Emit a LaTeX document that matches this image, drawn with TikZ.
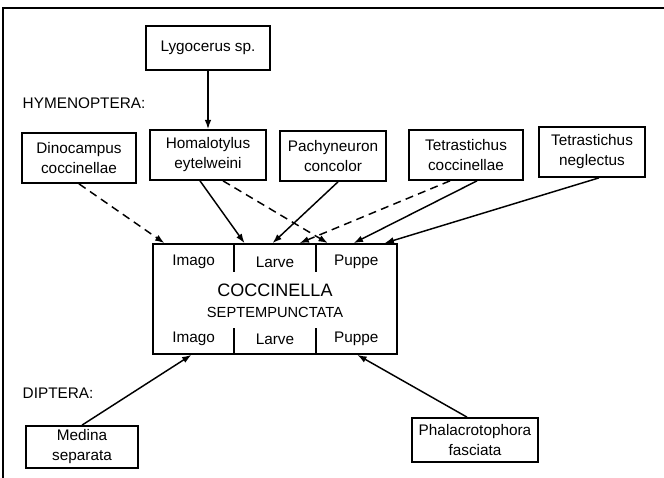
\documentclass[tikz,border=0pt]{standalone}
\usepackage{fontspec}
\setmainfont{Liberation Sans}
\usetikzlibrary{calc,shapes,arrows,arrows.meta}

\tikzset{
    art/.style={draw, line width=1.3pt, align=center, inner sep=2pt,
        font=\fontsize{11.5}{15}\selectfont},
    cell/.style={font=\fontsize{11.5}{13}\selectfont},
    grp/.style={anchor=west, font=\fontsize{11.5}{13}\selectfont},
    host/.style={line width=1.1pt, -{Latex[length=7pt,width=5pt]}},
    hostd/.style={host, dash pattern=on 6pt off 4pt}
}

\begin{document}
\begin{tikzpicture}[x=0.75pt,y=-0.75pt]
    \useasboundingbox (0,0) rectangle (664,478);
    \draw[line width=1.4pt] (3,478) -- (3,8) -- (664,8);

    \node[art, minimum width=93pt, minimum height=33pt] (lyg) at (208,48) {Lygocerus sp.};
    \node[grp] (hym) at (18,103) {HYMENOPTERA:};
    \node[art, minimum width=86pt, minimum height=37.5pt] (dino) at (79,158) {Dinocampus\\coccinellae};
    \node[art, minimum width=87pt, minimum height=37.5pt] (homa) at (208,155) {Homalotylus\\eytelweini};
    \node[art, minimum width=80pt, minimum height=37.5pt] (pachy) at (333,156) {Pachyneuron\\concolor};
    \node[art, minimum width=85pt, minimum height=37.5pt] (tetc) at (466,155) {Tetrastichus\\coccinellae};
    \node[art, minimum width=80pt, minimum height=37.5pt] (tetn) at (592,152) {Tetrastichus\\neglectus};

    % host
    \node[draw, line width=1.3pt, minimum width=183pt, minimum height=82.5pt] (cs) at (275,299) {};
    \foreach \lab [count=\i] in {Imago,Larve,Puppe} {
        \node[cell] (up\i) at (153+81.33*\i-40.67,262) {\lab};
        \node[cell] (dn\i) at (153+81.33*\i-40.67,339) {\lab};
    }
    \foreach \f in {0.333,0.667} {
        \draw[line width=1.1pt] ($(cs.north west)!\f!(cs.north east)$) -- ++(0,29);
        \draw[line width=1.1pt] ($(cs.south west)!\f!(cs.south east)$) -- ++(0,-27);
    }
    \node[font=\fontsize{13.5}{15}\selectfont] (cn1) at (275,290) {COCCINELLA};
    \node[font=\fontsize{11}{13}\selectfont] (cn2) at (275,312) {SEPTEMPUNCTATA};

    \node[grp] (dip) at (18,393) {DIPTERA:};
    \node[art, minimum width=84pt, minimum height=31.5pt] (medina) at (82,447) {Medina\\separata};
    \node[art, minimum width=94pt, minimum height=33pt] (phala) at (475,440) {Phalacrotophora\\fasciata};

    \draw[host] (lyg) -- (homa);
    \draw[hostd] (dino.south) -- ($(cs.north west)!0.05!(cs.north east)$);
    \draw[host] ($(homa.south)+(-8,0)$) -- ($(cs.north west)!0.376!(cs.north east)$);
    \draw[hostd] ($(homa.south)+(15,0)$) -- ($(cs.north west)!0.715!(cs.north east)$);
    \draw[host] ($(pachy.south)+(5,0)$) -- ($(cs.north west)!0.49!(cs.north east)$);
    \draw[hostd] ($(tetc.south)+(-16,0)$) -- ($(cs.north west)!0.6!(cs.north east)$);
    \draw[host] ($(tetc.south)+(11,0)$) -- ($(cs.north west)!0.82!(cs.north east)$);
    \draw[host] ($(tetn.south)+(7,0)$) -- ($(cs.north west)!0.946!(cs.north east)$);
    \draw[host] (medina.north) -- ($(cs.south west)!0.16!(cs.south east)$);
    \draw[host] ($(phala.north)+(-8,0)$) -- ($(cs.south west)!0.835!(cs.south east)$);
\end{tikzpicture}
\end{document}
